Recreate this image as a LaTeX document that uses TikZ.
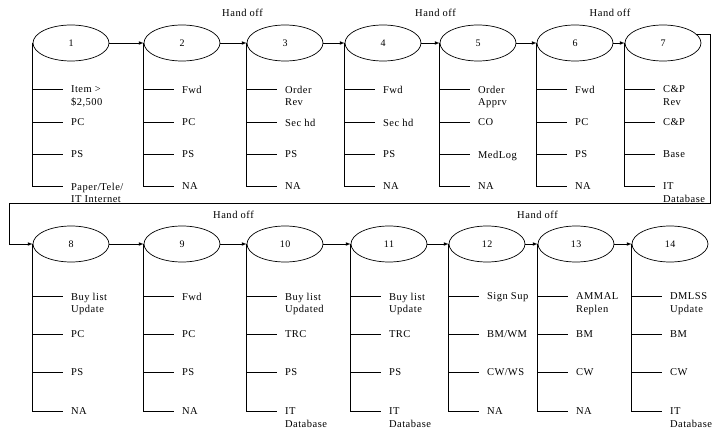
\documentclass[tikz,border=0pt]{standalone}
\usepackage{fontspec}
\setmainfont[LetterSpace=5]{Liberation Serif}
\usetikzlibrary{shapes.geometric}
\usetikzlibrary{positioning}
\usetikzlibrary{calc}
\tikzset{every picture/.style={line width=0.7pt},
  stage/.style={ellipse,draw,minimum width=76pt,minimum height=36pt,inner sep=0pt,font=\fontsize{10}{12}\selectfont},
  item/.style={anchor=north west,inner sep=0pt,align=left,font=\fontsize{10.5}{12.5}\selectfont},
  handoff/.style={font=\fontsize{10.5}{12.5}\selectfont}}

\begin{document}
\begin{tikzpicture}[x=1pt,y=-1pt]
\useasboundingbox (0,0) rectangle (714,430);

% stages
\foreach \n/\x in {1/71, 2/182, 3/285, 4/383, 5/478, 6/575, 7/663}
\node (e\n) at (\x,43) [stage] {\n};
\foreach \n/\x in {8/71, 9/182, 10/285, 11/389, 12/487, 13/576, 14/670}
\node (e\n) at (\x,244) [stage] {\n};

\foreach \a/\b in {1/2, 2/3, 3/4, 4/5, 5/6, 6/7, 8/9, 9/10, 10/11, 11/12, 12/13, 13/14}
\draw[-latex] (e\a) -- (e\b);

% wrap round to the second row
\coordinate (wr) at (710,203);
\coordinate (wl) at (9,203);
\draw[-latex] (e7.15) -| (wr) -- (wl) |- (e8);

% hand offs
\node (h1) at ($(e2)!0.5!(e3)+(9,-30)$) [handoff] {Hand off};
\node (h2) at ($(e4)!0.5!(e5)+(5,-30)$) [handoff] {Hand off};
\node (h3) at ($(e6)!0.5!(e7)+(-9,-30)$) [handoff] {Hand off};
\node (h4) at ($(e9)!0.5!(e10)+(0,-29)$) [handoff] {Hand off};
\node (h5) at ($(e12)!0.5!(e13)+(6,-29)$) [handoff] {Hand off};

% branches, top row
\foreach \n/\a/\b/\c/\d in {1/{Item >\\\$2,500}/PC/PS/{Paper\slash Tele\slash\\IT Internet},
  2/Fwd/PC/PS/NA, 3/{Order\\Rev}/Sec hd/PS/NA, 4/Fwd/Sec hd/PS/NA,
  5/{Order\\Apprv}/CO/MedLog/NA, 6/Fwd/PC/PS/NA, 7/{C\&P\\Rev}/C\&P/Base/{IT\\Database}} {
\coordinate (c\n-1) at ($(e\n.west)+(30,46)$);
\coordinate (c\n-2) at ($(e\n.west)+(30,79)$);
\coordinate (c\n-3) at ($(e\n.west)+(30,111)$);
\coordinate (c\n-4) at ($(e\n.west)+(30,143)$);
\node (l\n-1) at ($(c\n-1)+(8,-3.6)$) [item] {\a};
\node (l\n-2) at ($(c\n-2)+(8,-3.6)$) [item] {\b};
\node (l\n-3) at ($(c\n-3)+(8,-3.6)$) [item] {\c};
\node (l\n-4) at ($(c\n-4)+(8,-3.6)$) [item] {\d};
\draw (e\n.west) |- (c\n-4);
\foreach \k in {1,2,3} \draw (e\n.west |- c\n-\k) -- (c\n-\k);
}

% branches, bottom row
\foreach \n/\a/\b/\c/\d in {8/{Buy list\\Update}/PC/PS/NA, 9/Fwd/PC/PS/NA,
  10/{Buy list\\Updated}/TRC/PS/{IT\\Database}, 11/{Buy list\\Update}/TRC/PS/{IT\\Database},
  12/Sign Sup/BM\slash WM/CW\slash WS/NA, 13/{AMMAL\\Replen}/BM/CW/NA,
  14/{DMLSS\\Update}/BM/CW/{IT\\Database}} {
\coordinate (c\n-1) at ($(e\n.west)+(30,52)$);
\coordinate (c\n-2) at ($(e\n.west)+(30,90)$);
\coordinate (c\n-3) at ($(e\n.west)+(30,128)$);
\coordinate (c\n-4) at ($(e\n.west)+(30,167)$);
\node (l\n-1) at ($(c\n-1)+(8,-3.6)$) [item] {\a};
\node (l\n-2) at ($(c\n-2)+(8,-3.6)$) [item] {\b};
\node (l\n-3) at ($(c\n-3)+(8,-3.6)$) [item] {\c};
\node (l\n-4) at ($(c\n-4)+(8,-3.6)$) [item] {\d};
\draw (e\n.west) |- (c\n-4);
\foreach \k in {1,2,3} \draw (e\n.west |- c\n-\k) -- (c\n-\k);
}

\end{tikzpicture}
\end{document}
